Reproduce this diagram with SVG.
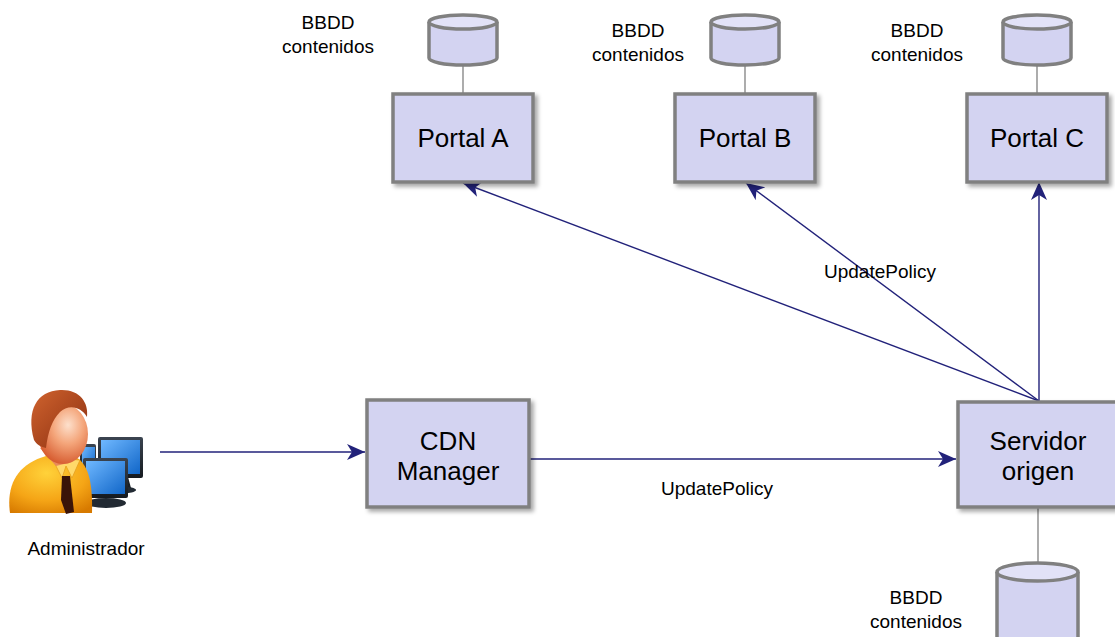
<svg xmlns="http://www.w3.org/2000/svg" width="1115" height="637" viewBox="0 0 1115 637">
  <defs>
    <filter id="shadow" x="-10%" y="-10%" width="130%" height="130%">
      <feDropShadow dx="3" dy="3" stdDeviation="2" flood-color="#000" flood-opacity="0.35"/>
    </filter>
    <marker id="arrow" viewBox="0 0 18 16" refX="18" refY="8" markerWidth="18" markerHeight="16" markerUnits="userSpaceOnUse" orient="auto">
      <path d="M0,0 L18,8 L0,16 L5,8 Z" fill="#22227a"/>
    </marker>
    <radialGradient id="skin" cx="0.6" cy="0.35" r="0.7">
      <stop offset="0" stop-color="#fde0cc"/>
      <stop offset="0.45" stop-color="#f4a57a"/>
      <stop offset="1" stop-color="#d4562a"/>
    </radialGradient>
    <linearGradient id="hair" x1="0" y1="0" x2="1" y2="1">
      <stop offset="0" stop-color="#d0632e"/>
      <stop offset="1" stop-color="#8a2e10"/>
    </linearGradient>
    <radialGradient id="shirt" cx="0.45" cy="0.3" r="0.8">
      <stop offset="0" stop-color="#ffd23a"/>
      <stop offset="0.6" stop-color="#f5a516"/>
      <stop offset="1" stop-color="#d77a00"/>
    </radialGradient>
    <linearGradient id="screen" x1="0" y1="0" x2="1" y2="1">
      <stop offset="0" stop-color="#6fb8ff"/>
      <stop offset="1" stop-color="#1166c8"/>
    </linearGradient>
    <linearGradient id="frame" x1="0" y1="0" x2="0" y2="1">
      <stop offset="0" stop-color="#3b4450"/>
      <stop offset="1" stop-color="#151a20"/>
    </linearGradient>
  </defs>
  <style>
    .box { fill: #d3d3f1; stroke: #808080; stroke-width: 3.5; filter: url(#shadow); }
    .cyl { fill: #d3d3f1; stroke: #808080; stroke-width: 3.5; }
    .cyltop { fill: #e2e2f7; stroke: #808080; stroke-width: 3.5; }
    .link { stroke: #808080; stroke-width: 1.3; fill: none; }
    .conn { stroke: #22227a; stroke-width: 1.4; fill: none; marker-end: url(#arrow); }
    .big { font-family: "Liberation Sans", Arial, sans-serif; font-size: 26px; fill: #000; text-anchor: middle; }
    .small { font-family: "Liberation Sans", Arial, sans-serif; font-size: 19px; fill: #000; text-anchor: middle; }
  </style>

  <rect width="1115" height="637" fill="#ffffff"/>

  <!-- database attachments -->
  <g id="db-links">
    <line class="link" x1="463" y1="65" x2="463" y2="94"/>
    <line class="link" x1="745" y1="65" x2="745" y2="94"/>
    <line class="link" x1="1037" y1="65" x2="1037" y2="94"/>
    <line class="link" x1="1038" y1="508" x2="1038" y2="564"/>
  </g>

  <!-- arrows -->
  <g id="connectors">
    <line class="conn" x1="160" y1="452" x2="365" y2="452"/>
    <line class="conn" x1="530" y1="459" x2="956" y2="459"/>
    <line class="conn" x1="1039" y1="401" x2="463" y2="183"/>
    <line class="conn" x1="1039" y1="401" x2="746" y2="183"/>
    <line class="conn" x1="1039" y1="401" x2="1039" y2="182"/>
    <text class="small" x="717" y="495">UpdatePolicy</text>
    <text class="small" x="880" y="278">UpdatePolicy</text>
  </g>

  <g id="db-a">
    <path class="cyl" d="M429,22 L429,58 A34,7 0 0 0 497,58 L497,22"/>
    <ellipse class="cyltop" cx="463" cy="22" rx="34" ry="7"/>
    <text class="small" x="328" y="29">BBDD</text>
    <text class="small" x="328" y="53">contenidos</text>
  </g>
  <g id="db-b">
    <path class="cyl" d="M711,22 L711,58 A34,7 0 0 0 779,58 L779,22"/>
    <ellipse class="cyltop" cx="745" cy="22" rx="34" ry="7"/>
    <text class="small" x="638" y="37">BBDD</text>
    <text class="small" x="638" y="61">contenidos</text>
  </g>
  <g id="db-c">
    <path class="cyl" d="M1003,22 L1003,58 A34,7 0 0 0 1071,58 L1071,22"/>
    <ellipse class="cyltop" cx="1037" cy="22" rx="34" ry="7"/>
    <text class="small" x="917" y="37">BBDD</text>
    <text class="small" x="917" y="61">contenidos</text>
  </g>
  <g id="db-origen">
    <path class="cyl" d="M997,572 L997,645 L1078,645 L1078,572"/>
    <ellipse class="cyltop" cx="1037.5" cy="572" rx="40.5" ry="9"/>
    <text class="small" x="916" y="604">BBDD</text>
    <text class="small" x="916" y="628">contenidos</text>
  </g>

  <g id="portal-a">
    <rect class="box" x="393" y="94" width="140" height="88"/>
    <text class="big" x="463" y="147">Portal A</text>
  </g>
  <g id="portal-b">
    <rect class="box" x="675" y="94" width="140" height="88"/>
    <text class="big" x="745" y="147">Portal B</text>
  </g>
  <g id="portal-c">
    <rect class="box" x="967" y="94" width="140" height="88"/>
    <text class="big" x="1037" y="147">Portal C</text>
  </g>

  <g id="cdn-manager">
    <rect class="box" x="367" y="400" width="162" height="107"/>
    <text class="big" x="448" y="450">CDN</text>
    <text class="big" x="448" y="480">Manager</text>
  </g>

  <g id="servidor-origen">
    <rect class="box" x="958" y="402" width="162" height="105"/>
    <text class="big" x="1038" y="450">Servidor</text>
    <text class="big" x="1038" y="480">origen</text>
  </g>

  <g id="administrador">
    <!-- workstations -->
    <rect x="80" y="444" width="16" height="30" rx="2" fill="url(#frame)"/>
    <rect x="82" y="447" width="13" height="24" fill="url(#screen)"/>
    <path d="M113,477 L128,477 L131,488 L110,488 Z" fill="#1b2128"/>
    <ellipse cx="121" cy="490" rx="15" ry="3.5" fill="#222a33"/>
    <rect x="98" y="437" width="45" height="41" rx="2" fill="url(#frame)"/>
    <rect x="101" y="440" width="39" height="34" fill="url(#screen)"/>
    <path d="M99,484 L112,484 L115,498 L96,498 Z" fill="#1b2128"/>
    <ellipse cx="106" cy="503" rx="20" ry="5" fill="#222a33"/>
    <rect x="83" y="458" width="45" height="40" rx="2" fill="url(#frame)"/>
    <rect x="86" y="461" width="39" height="33" fill="url(#screen)"/>
    <!-- body -->
    <path d="M10,513 C6,484 18,464 46,456 L74,456 C86,462 93,476 92,513 Z" fill="url(#shirt)"/>
    <path d="M52,458 L62,478 L66,466 L72,478 L80,460 Z" fill="#ffd96a" stroke="#e5a020" stroke-width="0.8"/>
    <path d="M62,476 L70,476 L74,512 L66,514 L61,500 Z" fill="#3a1408"/>
    <!-- head -->
    <path d="M40,448 L56,466 L72,462 L72,446 Z" fill="#e88a5a"/>
    <ellipse cx="63" cy="434" rx="25" ry="30" fill="url(#skin)"/>
    <path d="M34,440 C26,410 37,391 60,390 C79,389 89,402 87,417 C81,406 68,404 60,412 C52,420 48,432 46,448 C41,447 37,445 34,440 Z" fill="url(#hair)"/>
    <text class="small" x="86" y="555">Administrador</text>
  </g>
</svg>
